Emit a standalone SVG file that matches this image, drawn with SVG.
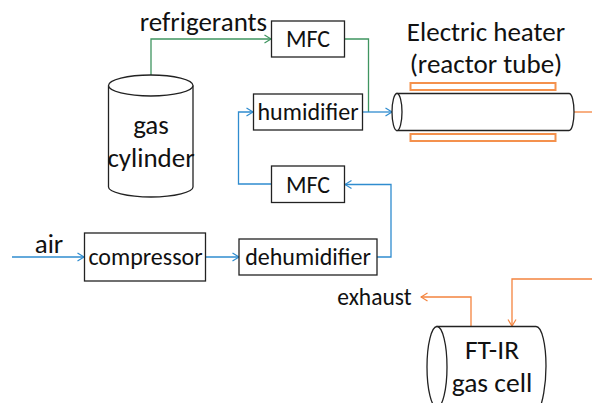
<svg xmlns="http://www.w3.org/2000/svg" width="592" height="403" viewBox="0 0 592 403">
<style>
text{font-family:Carlito,Lato,"Open Sans",sans-serif;fill:#111;text-anchor:middle;font-size:24px}
.l{font-size:27px}
.b{fill:#fff;stroke:#222;stroke-width:1.3}
.h{fill:#fff;stroke:#f4914d;stroke-width:2}
.c{fill:none;stroke-width:1.3}
.g{stroke:#3f9560}.u{stroke:#2f8ccf}.o{stroke:#f4843f}
</style>
<defs>
<marker id="ag" markerWidth="9" markerHeight="10" refX="7.5" refY="5" orient="auto" markerUnits="userSpaceOnUse"><path d="M1 1L7.5 5L1 9" fill="none" stroke="#3f9560" stroke-width="1.2"/></marker>
<marker id="au" markerWidth="9" markerHeight="10" refX="7.5" refY="5" orient="auto" markerUnits="userSpaceOnUse"><path d="M1 1L7.5 5L1 9" fill="none" stroke="#2f8ccf" stroke-width="1.2"/></marker>
<marker id="ao" markerWidth="9" markerHeight="10" refX="7.5" refY="5" orient="auto" markerUnits="userSpaceOnUse"><path d="M1 1L7.5 5L1 9" fill="none" stroke="#f4843f" stroke-width="1.2"/></marker>
</defs>
<g id="connectors">
<path class="c g" marker-end="url(#ag)" d="M151 75V39H271"/>
<path class="c g" d="M345 39H368.500V112"/>
<path class="c u" marker-end="url(#au)" d="M363 112H392"/>
<path class="c u" marker-end="url(#au)" d="M271 184H238.500V112H253"/>
<path class="c u" marker-end="url(#au)" d="M377 257H391V184.500H345"/>
<path class="c u" marker-end="url(#au)" d="M12 257H84"/>
<path class="c u" marker-end="url(#au)" d="M206 257H239"/>
<path class="c o" d="M574 112H592"/>
<path class="c o" marker-end="url(#ao)" d="M592 279H512V326"/>
<path class="c o" marker-end="url(#ao)" d="M471 326V297H421"/>
</g>
<text x="203.500" y="31" class="l">refrigerants</text>
<g id="mfc-top"><rect class="b" x="271.500" y="21" width="73" height="36"/><text x="308" y="47">MFC</text></g>
<g id="gas-cylinder"><path class="b" d="M108.500 85.500V187C108.500 192 127 197 151 197S193 192 193 187V85.500"/><ellipse class="b" cx="150.750" cy="85.500" rx="42.250" ry="10.500"/><text x="151" y="134" class="l">gas</text><text x="151" y="167" class="l">cylinder</text></g>
<g id="humidifier"><rect class="b" x="253.500" y="94" width="109" height="36"/><text x="308" y="120">humidifier</text></g>
<g id="mfc-bottom"><rect class="b" x="271.500" y="166" width="73" height="36.500"/><text x="308" y="193">MFC</text></g>
<g id="compressor"><rect class="b" x="84.500" y="233" width="121" height="48"/><text x="145.500" y="265">compressor</text></g>
<g id="dehumidifier"><rect class="b" x="239" y="239" width="138" height="36"/><text x="308" y="265">dehumidifier</text></g>
<text x="49" y="253" class="l">air</text>
<g id="reactor">
<rect class="h" x="410.500" y="83" width="145" height="7"/>
<rect class="h" x="410.500" y="134" width="145" height="7"/>
<path class="b" d="M397 93.500H569C572 93.500 574 102 574 112S572 130.500 569 130.500H397Z"/>
<ellipse class="b" cx="397" cy="112" rx="5" ry="18.500"/>
<text x="486" y="41" class="l">Electric heater</text><text x="486" y="73" class="l">(reactor tube)</text>
</g>
<text x="374.500" y="305" style="font-size:23.500px">exhaust</text>
<g id="gas-cell">
<path class="b" d="M437 326.500H536C542 326.500 546 345 546 366S542 403 540 407H437Z"/>
<ellipse class="b" cx="437" cy="367" rx="10" ry="40.500"/>
<text x="492" y="359" style="font-size:27.500px">FT-IR</text><text x="492" y="392" style="font-size:27.500px">gas cell</text>
</g>
</svg>
